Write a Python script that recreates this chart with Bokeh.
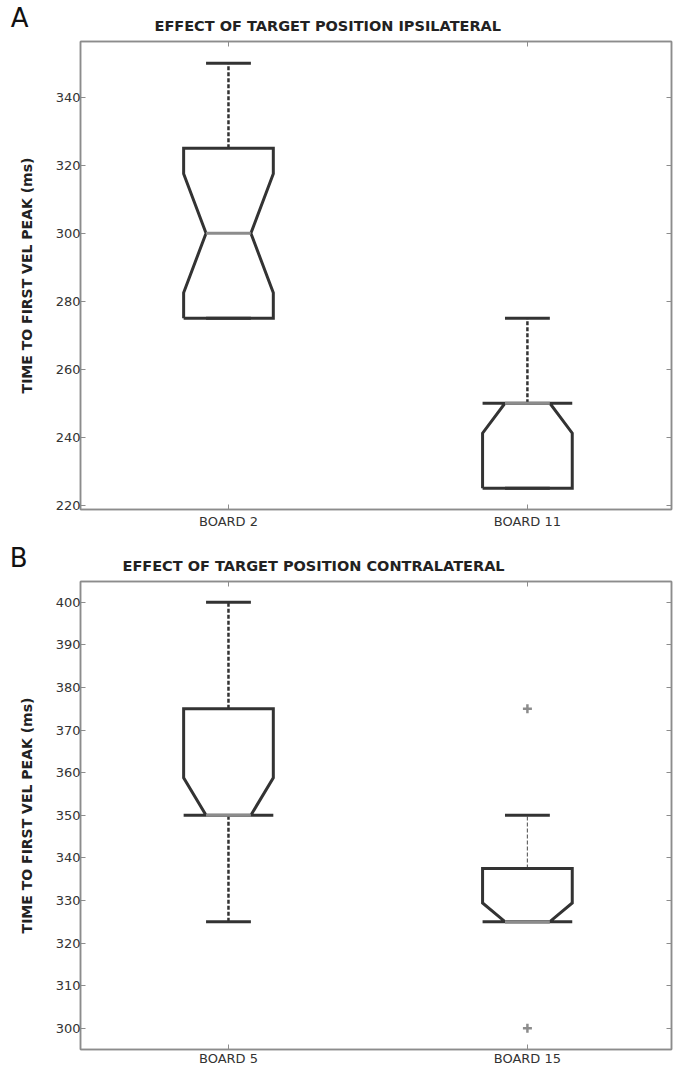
from bokeh.plotting import figure
from bokeh.models import Range1d, FixedTicker, LinearAxis
from bokeh.layouts import column
from bokeh.core.properties import value
from bokeh.embed import file_html
from bokeh.resources import INLINE

# ---- Panel A data (ms) ----
title_a = "EFFECT OF TARGET POSITION IPSILATERAL"
cats_a = ["BOARD 2", "BOARD 11"]
q1_a = [275, 225]
med_a = [300, 250]
q3_a = [325, 250]
notch_lo_a = [282.5, 241.2]
notch_hi_a = [317.5, 250]
whisk_lo_a = [275, 225]
whisk_hi_a = [350, 275]
outliers_a = [[], []]
yticks_a = [220, 240, 260, 280, 300, 320, 340]

# ---- Panel B data (ms) ----
title_b = "EFFECT OF TARGET POSITION CONTRALATERAL"
cats_b = ["BOARD 5", "BOARD 15"]
q1_b = [350, 325]
med_b = [350, 325]
q3_b = [375, 337.5]
notch_lo_b = [350, 325]
notch_hi_b = [358.8, 329.4]
whisk_lo_b = [325, 325]
whisk_hi_b = [400, 350]
outliers_b = [[], [375, 300]]
yticks_b = [300, 310, 320, 330, 340, 350, 360, 370, 380, 390, 400]

YLABEL = "TIME TO FIRST VEL PEAK (ms)"
FONT = "DejaVu Sans"
DARK = "#333333"
GRAY = "#8c8c8c"
BOX_HW = 0.15
CAP_HW = 0.075
NOTCH_HW = 0.075
W = 675
LEFT_B = 80
RIGHT_B = 4


def header(letter, title, top, h, letter_y, letter_standoff, title_xy):
    # frame is aligned with the panels' frames; coords = page pixels
    p = figure(width=W, height=h, x_range=Range1d(LEFT_B, W - RIGHT_B),
               y_range=Range1d(top + h, top), output_backend="svg",
               toolbar_location=None, x_axis_type=None, min_border_left=LEFT_B,
               min_border_right=RIGHT_B, min_border_top=0, min_border_bottom=0)
    p.outline_line_color = None
    p.grid.visible = False
    ax = p.yaxis[0]
    ax.ticker = FixedTicker(ticks=[letter_y])
    ax.major_label_overrides = {letter_y: letter}
    ax.major_label_text_font = FONT
    ax.major_label_text_font_size = "26px"
    ax.major_label_text_color = "#111111"
    ax.major_label_standoff = letter_standoff
    ax.axis_line_color = None
    ax.major_tick_line_color = None
    ax.minor_tick_line_color = None
    ax.major_tick_out = 0
    ax.major_tick_in = 0
    p.text(x=[title_xy[0]], y=[title_xy[1]], text=[title], text_font=value(FONT),
           text_font_size="14.5px", text_font_style="bold", text_color="#222222",
           text_baseline="alphabetic")
    return p


def panel(cats, q1, med, q3, nlo, nhi, wlo, whi, outl, yr, yticks,
          fig_h, top_b, bottom_b, xlab_standoff, whisk_styles):
    p = figure(width=W, height=fig_h, x_range=Range1d(0.505, 2.482),
               y_range=Range1d(*yr), output_backend="svg", toolbar_location=None,
               min_border_left=LEFT_B, min_border_right=RIGHT_B, min_border_top=top_b,
               min_border_bottom=bottom_b)
    p.grid.visible = False
    p.outline_line_color = GRAY
    p.outline_line_width = 1.5

    pos = [i + 1 for i in range(len(cats))]

    # whiskers
    for i, c in enumerate(pos):
        w_w, w_c = whisk_styles[i]
        if whi[i] > q3[i]:
            p.segment(x0=[c], y0=[q3[i]], x1=[c], y1=[whi[i]], line_color=w_c,
                      line_width=w_w, line_dash="4 2")
        if wlo[i] < q1[i]:
            p.segment(x0=[c], y0=[wlo[i]], x1=[c], y1=[q1[i]], line_color=w_c,
                      line_width=w_w, line_dash="4 2")
    # caps
    p.segment(x0=[c - CAP_HW for c in pos], y0=whi, x1=[c + CAP_HW for c in pos],
              y1=whi, line_color=DARK, line_width=3)
    p.segment(x0=[c - CAP_HW for c in pos], y0=wlo, x1=[c + CAP_HW for c in pos],
              y1=wlo, line_color=DARK, line_width=3)
    # notched boxes
    xs, ys = [], []
    for i, c in enumerate(pos):
        l, r = c - BOX_HW, c + BOX_HW
        il, ir = c - NOTCH_HW, c + NOTCH_HW
        xs.append([l, l, il, l, l, r, r, ir, r, r, l])
        ys.append([q1[i], nlo[i], med[i], nhi[i], q3[i], q3[i], nhi[i], med[i],
                   nlo[i], q1[i], q1[i]])
    p.multi_line(xs, ys, line_color=DARK, line_width=3, line_join="miter")
    # medians
    p.segment(x0=[c - NOTCH_HW for c in pos], y0=med, x1=[c + NOTCH_HW for c in pos],
              y1=med, line_color=GRAY, line_width=3)
    # outliers
    ox, oy = [], []
    for i, c in enumerate(pos):
        for v in outl[i]:
            ox.append(c)
            oy.append(v)
    if ox:
        p.scatter(ox, oy, marker="cross", size=9, line_color=GRAY, line_width=2.5)

    # axes
    for ax in (p.xaxis[0], p.yaxis[0]):
        ax.axis_line_color = GRAY
        ax.axis_line_width = 1.5
        ax.major_tick_line_color = GRAY
        ax.major_tick_in = 5
        ax.major_tick_out = 0
        ax.minor_tick_line_color = None
        ax.major_label_text_font = FONT
        ax.major_label_text_font_size = "13px"
        ax.major_label_text_color = DARK
    p.xaxis.ticker = FixedTicker(ticks=pos)
    p.xaxis.major_label_overrides = {c: n for c, n in zip(pos, cats)}
    p.xaxis.major_label_standoff = xlab_standoff
    p.yaxis.ticker = FixedTicker(ticks=yticks)
    p.yaxis.major_label_standoff = 0
    p.yaxis.axis_label = YLABEL
    p.yaxis.axis_label_text_font = FONT
    p.yaxis.axis_label_text_font_size = "14px"
    p.yaxis.axis_label_text_font_style = "bold"
    p.yaxis.axis_label_text_color = "#222222"
    p.yaxis.axis_label_standoff = 18

    right = LinearAxis(ticker=FixedTicker(ticks=yticks))
    top = LinearAxis(ticker=FixedTicker(ticks=pos))
    for ax in (right, top):
        ax.axis_line_color = GRAY
        ax.axis_line_width = 1.5
        ax.major_tick_line_color = GRAY
        ax.major_tick_in = 5
        ax.major_tick_out = 0
        ax.minor_tick_line_color = None
        ax.major_label_text_font_size = "1px"
        ax.major_label_text_color = None
        ax.major_label_standoff = 0
    p.add_layout(right, "right")
    p.add_layout(top, "above")
    return p


ha = header("A", title_a, 0, 37, 27, 52, (154, 25))
pa = panel(cats_a, q1_a, med_a, q3_a, notch_lo_a, notch_hi_a,
           whisk_lo_a, whisk_hi_a, outliers_a, (218.75, 356.4), yticks_a,
           503, 4, 31, 4, [(2.5, DARK), (2.5, DARK)])
hb = header("B", title_b, 540, 37, 567, 53, (122, 565))
pb = panel(cats_b, q1_b, med_b, q3_b, notch_lo_b, notch_hi_b,
           whisk_lo_b, whisk_hi_b, outliers_b, (295.0, 404.86), yticks_b,
           491, 4, 19, 1, [(2.5, DARK), (1.2, "#666666")])

layout = column(ha, pa, hb, pb, spacing=0)
open("out.html", "w").write(file_html(layout, INLINE))
